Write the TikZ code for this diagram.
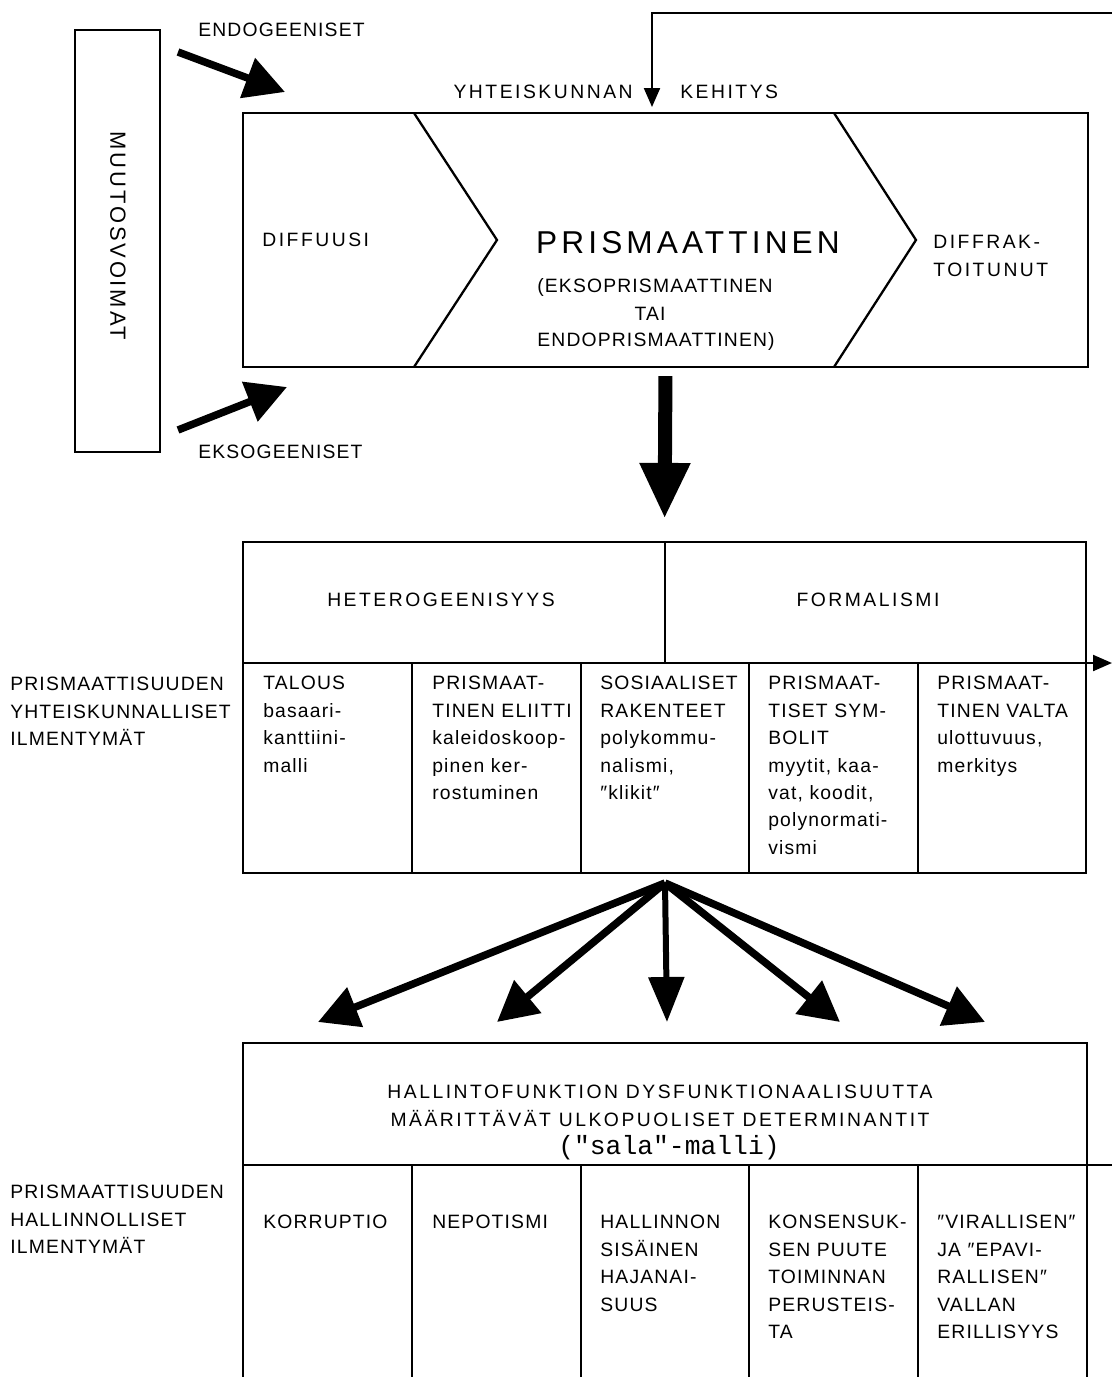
\documentclass[tikz,border=0pt]{standalone}
\usepackage{fontspec}
\setmainfont[LetterSpace=6]{Liberation Sans}
\newfontfamily\wide[LetterSpace=13]{Liberation Sans}
\setmonofont{Liberation Mono}
\usetikzlibrary{arrows.meta}

\begin{document}
\begin{tikzpicture}[x=0.02cm,y=-0.02cm,
    font=\fontsize{11}{15.6}\selectfont,
    frame/.style={line width=1.3pt},
    cell/.style={anchor=north west,inner sep=0pt,align=left},
    head/.style={inner sep=0pt,font=\wide\fontsize{11}{15.9}\selectfont},
    fatarrow/.style={line width=0.15cm,-{Triangle[length=0.8cm,width=0.82cm]}},
    thinarrow/.style={line width=1.2pt,-{Triangle[length=0.38cm,width=0.32cm]}}]
    \useasboundingbox (0,0) rectangle (1112,1377);

    % muutosvoimat ja prosessi
    \node[draw,frame,minimum width=1.7cm,minimum height=8.44cm,inner sep=0pt] (muutos) at (117.5,241) {};
    \node[head,rotate=-90,font=\wide\fontsize{12.5}{12.5}\selectfont] (muutosteksti) at (118,236) {MUUTOSVOIMAT};
    \node[anchor=west,inner sep=0pt] (endo) at (198,30) {ENDOGEENISET};
    \node[anchor=west,inner sep=0pt] (ekso) at (198,452) {EKSOGEENISET};
    \coordinate (endotail) at (178,52);
    \coordinate (endotip) at (285,92);
    \coordinate (eksotail) at (178,430);
    \coordinate (eksotip) at (287,387);
    \draw[fatarrow] (endotail) -- (endotip);
    \draw[fatarrow] (eksotail) -- (eksotip);

    \node[draw,frame,minimum width=16.9cm,minimum height=5.08cm,inner sep=0pt] (prosessi) at (665.5,240) {};
    \draw[frame] (414,113) -- (497,240) -- (414,367);
    \draw[frame] (834,113) -- (916,240) -- (834,367);
    \node[head,anchor=east] (yhteis) at (633,92) {YHTEISKUNNAN};
    \node[head,anchor=west] (kehitys) at (680,92) {KEHITYS};
    \coordinate (paluu) at (1112,13);
    \coordinate (paluutip) at (652,107);
    \draw[thinarrow] (paluu) -- (652,13) -- (paluutip);
    \node[head,anchor=west] (diffuusi) at (262,240) {DIFFUUSI};
    \node[head,anchor=north west,align=left] (diffrak) at (933,235) {DIFFRAK-\\TOITUNUT};
    \node[head,font=\wide\fontsize{18}{18}\selectfont] (prisma) at (688,243) {PRISMAATTINEN};
    \node[anchor=west,inner sep=0pt] (eksoprisma) at (537,287) {(EKSOPRISMAATTINEN};
    \node[inner sep=0pt] (tai) at (650,314) {TAI};
    \node[anchor=west,inner sep=0pt] (endoprisma) at (537,341) {ENDOPRISMAATTINEN)};

    % yhteiskunnalliset ilmentymät
    \node[draw,frame,minimum width=16.86cm,minimum height=6.62cm,inner sep=0pt] (yhteiskunta) at (664.5,707.5) {};
    \draw[line width=0.28cm,-{Triangle[length=1.12cm,width=0.94cm]},shorten <=0.16cm,shorten >=0.44cm]
        (prosessi.south) -- (yhteiskunta.north);
    \coordinate (rivi) at (243,663);
    \coordinate (rivioikea) at (1086,663);
    \coordinate (ulos) at (1112,663);
    \draw[frame] (rivi) -- (rivioikea);
    \draw[thinarrow] (rivioikea) -- (ulos);
    \draw[frame] (665,542) -- (665,663);
    \draw[frame] (412,663) -- (412,873);
    \draw[frame] (581,663) -- (581,873);
    \draw[frame] (749,663) -- (749,873);
    \draw[frame] (918,663) -- (918,873);
    \node[head] (hetero) at (441,600) {HETEROGEENISYYS};
    \node[head] (formal) at (868,600) {FORMALISMI};
    \node[cell] (talous) at (263,676) {TALOUS\\basaari-\\kanttiini-\\malli};
    \node[cell] (eliitti) at (432,676) {PRISMAAT-\\TINEN ELIITTI\\kaleidoskoop-\\pinen ker-\\rostuminen};
    \node[cell] (sosiaali) at (600,676) {SOSIAALISET\\RAKENTEET\\polykommu-\\nalismi,\\″klikit″};
    \node[cell] (symbolit) at (768,676) {PRISMAAT-\\TISET SYM-\\BOLIT\\myytit, kaa-\\vat, koodit,\\polynormati-\\vismi};
    \node[cell] (valta) at (937,676) {PRISMAAT-\\TINEN VALTA\\ulottuvuus,\\merkitys};
    \node[cell] (yhtlabel) at (10,677) {PRISMAATTISUUDEN\\YHTEISKUNNALLISET\\ILMENTYMÄT};

    % hallinnolliset ilmentymät
    \coordinate (fan) at (665,883);
    \coordinate (kohde1) at (318,1022);
    \coordinate (kohde2) at (497,1022);
    \coordinate (kohde3) at (667,1022);
    \coordinate (kohde4) at (840,1022);
    \coordinate (kohde5) at (985,1022);
    \draw[fatarrow] (fan) -- (kohde1);
    \draw[fatarrow] (fan) -- (kohde2);
    \draw[line width=0.12cm,-{Triangle[length=0.9cm,width=0.7cm]}] (fan) -- (kohde3);
    \draw[fatarrow] (fan) -- (kohde4);
    \draw[fatarrow] (fan) -- (kohde5);

    \draw[frame] (243,1377) -- (243,1043) -- (1087,1043) -- (1087,1377);
    \draw[frame] (243,1165) -- (1112,1165);
    \draw[frame] (412,1165) -- (412,1377);
    \draw[frame] (581,1165) -- (581,1377);
    \draw[frame] (749,1165) -- (749,1377);
    \draw[frame] (918,1165) -- (918,1377);
    \node[head,align=center] (dysfunktio) at (660,1106) {HALLINTOFUNKTION DYSFUNKTIONAALISUUTTA\\MÄÄRITTÄVÄT ULKOPUOLISET DETERMINANTIT};
    \node[inner sep=0pt,font=\ttfamily\fontsize{15}{15}\selectfont] (sala) at (669,1148) {("sala"-malli)};
    \node[cell] (korruptio) at (263,1215) {KORRUPTIO};
    \node[cell] (nepotismi) at (432,1215) {NEPOTISMI};
    \node[cell] (hajanaisuus) at (600,1215) {HALLINNON\\SISÄINEN\\HAJANAI-\\SUUS};
    \node[cell] (konsensus) at (768,1215) {KONSENSUK-\\SEN PUUTE\\TOIMINNAN\\PERUSTEIS-\\TA};
    \node[cell] (erillisyys) at (937,1215) {″VIRALLISEN″\\JA ″EPAVI-\\RALLISEN″\\VALLAN\\ERILLISYYS};
    \node[cell] (hallabel) at (10,1185) {PRISMAATTISUUDEN\\HALLINNOLLISET\\ILMENTYMÄT};
\end{tikzpicture}
\end{document}
